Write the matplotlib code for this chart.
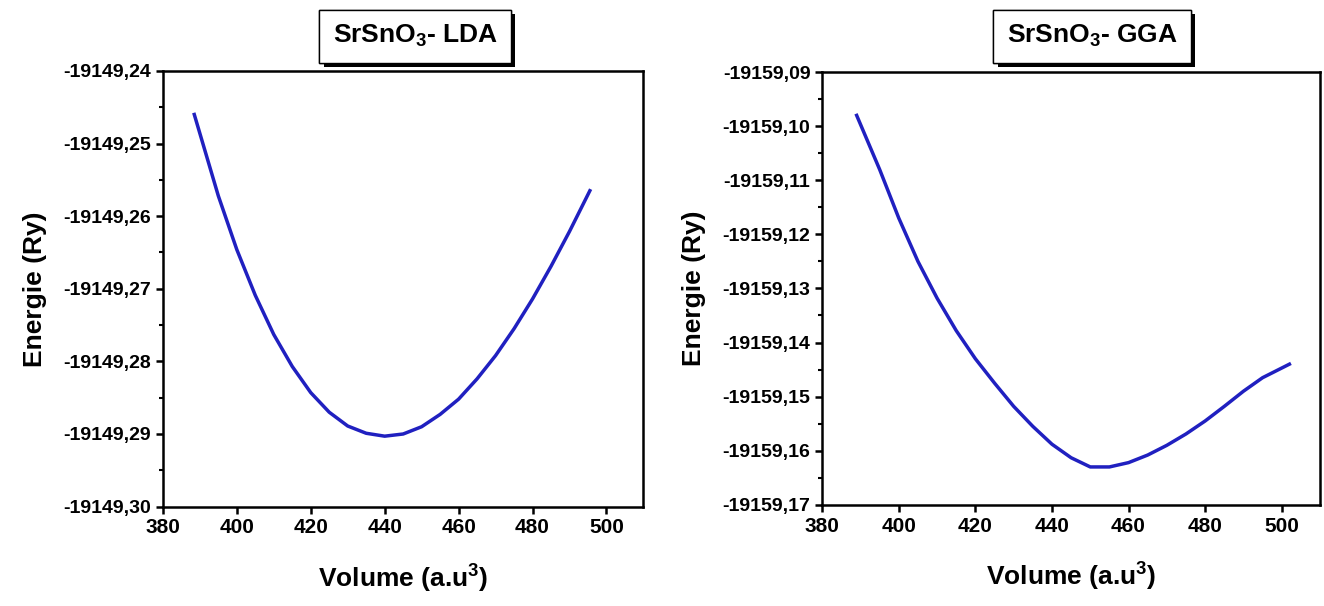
import matplotlib
matplotlib.use('Agg')
import matplotlib.pyplot as plt
import matplotlib.patheffects as pe
from matplotlib.ticker import MultipleLocator, FuncFormatter

plt.rcParams['font.family'] = ['Liberation Sans', 'DejaVu Sans']
plt.rcParams['font.weight'] = 'bold'
plt.rcParams['axes.labelweight'] = 'bold'
plt.rcParams['mathtext.fontset'] = 'custom'
plt.rcParams['mathtext.rm'] = 'Liberation Sans:bold'
plt.rcParams['mathtext.bf'] = 'Liberation Sans:bold'
plt.rcParams['mathtext.default'] = 'bf'

# volume (a.u^3) and energy (Ry)
vol_lda = [388.5, 395, 400, 405, 410, 415, 420, 425, 430, 435, 440,
           445, 450, 455, 460, 465, 470, 475, 480, 485, 490, 495.5]
e_lda = [-19149.2460, -19149.2572, -19149.2646, -19149.2709, -19149.2763,
         -19149.2807, -19149.2843, -19149.2870, -19149.2889, -19149.2899,
         -19149.2903, -19149.2900, -19149.2890, -19149.2873, -19149.2852,
         -19149.2824, -19149.2792, -19149.2755, -19149.2714, -19149.2669,
         -19149.2621, -19149.2565]

vol_gga = [389, 395, 400, 405, 410, 415, 420, 425, 430, 435, 440,
           445, 450, 455, 460, 465, 470, 475, 480, 485, 490, 495, 502]
e_gga = [-19159.0980, -19159.1080, -19159.1170, -19159.1250, -19159.1318,
         -19159.1378, -19159.1430, -19159.1475, -19159.1518, -19159.1555,
         -19159.1588, -19159.1613, -19159.1630, -19159.1630, -19159.1622,
         -19159.1608, -19159.1590, -19159.1569, -19159.1545, -19159.1518,
         -19159.1490, -19159.1465, -19159.1440]

fig = plt.figure(figsize=(13.24, 6.06), dpi=100)
ax1 = fig.add_axes([0.123, 0.164, 0.363, 0.719])
ax2 = fig.add_axes([0.621, 0.167, 0.376, 0.714])

comma = FuncFormatter(lambda v, p: ('%.2f' % v).replace('.', ','))

def setup(ax, vol, e, ylim, title, xc):
    ax.plot(vol, e, color='#2020c0', lw=2.5)
    ax.set_xlim(380, 510)
    ax.set_ylim(*ylim)
    ax.xaxis.set_major_locator(MultipleLocator(20))
    ax.yaxis.set_major_locator(MultipleLocator(0.01))
    ax.yaxis.set_minor_locator(MultipleLocator(0.005))
    ax.yaxis.set_major_formatter(comma)
    for s in ax.spines.values():
        s.set_linewidth(1.8)
    ax.tick_params(which='major', direction='out', length=5, width=1.8,
                   top=False, right=False)
    ax.tick_params(axis='y', labelsize=14)
    ax.tick_params(axis='x', labelsize=15)
    ax.tick_params(which='minor', direction='out', length=3, width=1.5,
                   top=False, right=False)
    ax.set_xlabel('Volume (a.u$^3$)', fontsize=19, labelpad=18)
    ax.set_ylabel('Energie (Ry)', fontsize=19, labelpad=12)
    t = fig.text(xc, 0.94, title, fontsize=19, ha='center', va='center',
                 bbox=dict(boxstyle='square,pad=0.5', fc='white', ec='black', lw=1))
    t.get_bbox_patch().set_path_effects([
        pe.withSimplePatchShadow(offset=(3, -3), shadow_rgbFace='black', alpha=1),
        pe.Normal()])

setup(ax1, vol_lda, e_lda, (-19149.30, -19149.24), 'SrSnO$_3$- LDA', 415 / 1324)
setup(ax2, vol_gga, e_gga, (-19159.17, -19159.09), 'SrSnO$_3$- GGA', 1092 / 1324)

fig.savefig('out.png', dpi=100)
